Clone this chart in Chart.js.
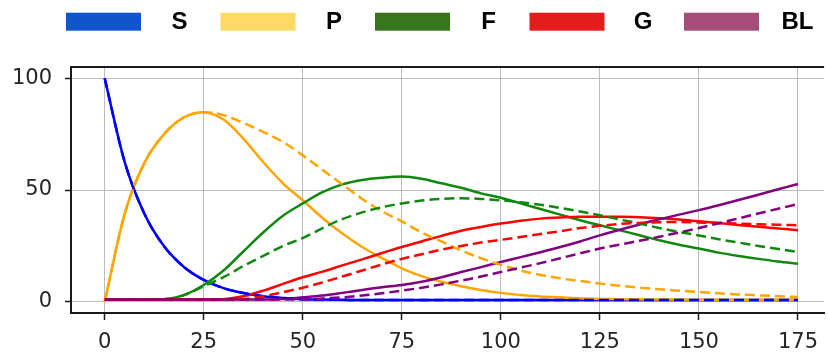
<!DOCTYPE html>
<html><head><meta charset="utf-8">
<script src="https://cdn.jsdelivr.net/npm/chart.js@4.4.1/dist/chart.umd.min.js"></script>
<style>html,body{margin:0;padding:0;background:#fff;overflow:hidden;} #wrap{width:828px;height:353px;position:relative;}</style>
</head><body><div id="wrap"><canvas id="c" width="828" height="353"></canvas></div>
<script>
// time points (x values)
const times = [0,5,10,15,20,25,30,35,40,45,50,55,60,65,70,75,80,85,90,95,100,105,110,115,120,125,130,135,140,145,150,155,160,165,170,175];
// solid series
const sSolid  = [100,62.8,39.5,24.8,15.6,9.8,6.1,3.9,2.5,1.7,1.2,1,0.9,0.8,0.8,0.8,0.8,0.8,0.8,0.8,0.8,0.8,0.8,0.8,0.8,0.8,0.8,0.8,0.8,0.8,0.8,0.8,0.8,0.8,0.8,0.8];
const pSolid  = [0,39,62,75,82.5,84.8,81.5,73,62.5,53,45.4,37.5,30.5,24.5,19.5,15,11.5,9,7,5.3,4,3,2.4,2,1.6,1.3,1.2,1.1,1,1,0.9,0.9,0.9,0.9,0.9,0.9];
const fSolid  = [1,1,1,1.2,3,7.5,14,22.5,31,38.5,44,49,52.5,54.5,55.5,56,55,53,51,48.5,46.5,44,41.5,39,36.5,34.2,32,29.8,27.5,25.5,23.8,22,20.5,19.2,18,17];
const gSolid  = [1,1,1,1,1,1,1.2,2.5,5,8,11,13.5,16.3,19,21.8,24.5,27,29.5,31.8,33.5,35,36.3,37.2,37.7,38,38,38,37.8,37.4,36.8,36,35.2,34.4,33.6,32.8,32];
const blSolid = [1,1,1,1,1,1,1,1,1,1.3,2,2.8,4,5.3,6.5,7.5,9,11,13.3,15.5,17.8,20,22.2,24.5,27,29.7,32.2,34.6,36.9,39,41,43.2,45.5,47.9,50.3,52.7];
// dashed series
const sDashed  = [100,62.8,39.5,24.8,15.6,9.8,6.1,3.9,2.5,1.7,1.2,1,0.9,0.8,0.8,0.8,0.8,0.8,0.8,0.8,0.8,0.8,0.8,0.8,0.8,0.8,0.8,0.8,0.8,0.8,0.8,0.8,0.8,0.8,0.8,0.8];
const pDashed  = [0,39,62,75,82.5,84.8,83.5,80,76,71.5,65.5,59,52.5,46,40.5,36,31,27,23,19.5,16.5,14,12,10.5,9.3,8.2,7.2,6.3,5.6,5,4.4,3.8,3.3,2.9,2.5,2.2];
const fDashed  = [1,1,1,1.2,3,7,11,16,20.5,25,28.5,33,37,40,42.3,44,45.3,46,46.3,46,45.4,44.5,43.4,42,40.4,38.7,36.8,35,33,31.2,29.7,28,26.5,25,23.6,22.3];
const gDashed  = [1,1,1,1,1,1,1,1.2,2.5,4.3,6.3,8.7,11.3,14,16.7,19.2,21.3,23.3,25,26.5,27.7,29,30.3,31.6,33,34,34.8,35.3,35.6,35.7,35.5,35.2,35,34.7,34.5,34.2];
const blDashed = [1,1,1,1,1,1,1,1,1,1,1,1.5,2,2.8,3.8,5,6.3,7.8,9.5,11.3,13.3,15.3,17.3,19.5,21.7,23.8,25.6,27.3,29.1,31,33,35.1,37.3,39.5,41.6,43.7];

const seriesNames = ['S','P','F','G','BL'];
const legendColors = ['#1155cc','#ffd966','#38761d','#e51c1c','#a64d79'];
const lineColors = ['#0000ff','#ffa500','#108810','#ff0000','#800080'];
const xTicks = [0,25,50,75,100,125,150,175];
const yTicks = [0,50,100];

const solidSets = [sSolid,pSolid,fSolid,gSolid,blSolid];
const dashedSets = [sDashed,pDashed,fDashed,gDashed,blDashed];

const datasets = [];
solidSets.forEach((arr,i)=>{
  datasets.push({label: seriesNames[i], data: times.map((t,j)=>({x:t,y:arr[j]})),
    borderColor: lineColors[i], backgroundColor: lineColors[i], borderWidth: 2.5,
    pointRadius: 0, cubicInterpolationMode: 'monotone', fill: false, order: 20 - i});
});
dashedSets.forEach((arr,i)=>{
  datasets.push({label: seriesNames[i] + ' (dashed)', data: times.map((t,j)=>({x:t,y:arr[j]})),
    borderColor: lineColors[i], backgroundColor: lineColors[i], borderWidth: 2.5, borderDash: [10,5],
    pointRadius: 0, cubicInterpolationMode: 'monotone', fill: false, order: 10 - i});
});

const boxLegend = {
  id: 'boxLegend',
  afterDraw(chart){
    const ctx = chart.ctx;
    ctx.save();
    const x0 = 66, step = 154.5, bw = 75, bh = 18, y0 = 12.7;
    ctx.font = 'bold 24px "Liberation Sans", Arial, sans-serif';
    ctx.textAlign = 'center';
    ctx.textBaseline = 'middle';
    seriesNames.forEach((n,i)=>{
      const x = x0 + i*step;
      ctx.fillStyle = legendColors[i];
      ctx.fillRect(x, y0, bw, bh);
      ctx.fillStyle = '#000';
      ctx.fillText(n, x + bw + 38.5, y0 + bh/2 + 1);
    });
    ctx.restore();
  }
};
const topSpine = {
  id: 'topSpine',
  afterDraw(chart){
    const {ctx, chartArea} = chart;
    ctx.save();
    ctx.strokeStyle = '#1a1a1a';
    ctx.lineWidth = 2;
    ctx.beginPath();
    ctx.moveTo(chartArea.left, chartArea.top);
    ctx.lineTo(chartArea.right, chartArea.top);
    ctx.stroke();
    ctx.restore();
  }
};

const tickFont = {family: '"DejaVu Sans", sans-serif', size: 21};
new Chart(document.getElementById('c'), {
  type: 'line',
  data: {datasets},
  options: {
    responsive: false, animation: false, devicePixelRatio: 1,
    layout: {padding: {top: 67, left: 0, right: 0, bottom: 0}},
    plugins: {legend: {display: false}, tooltip: {enabled: false}},
    scales: {
      x: {type: 'linear', min: -8.5, max: 181.6,
        afterBuildTicks: s => { s.ticks = xTicks.map(v=>({value:v})); },
        afterFit: s => { s.height = 40; },
        grid: {color: '#bcbcbc', lineWidth: 1, tickColor: '#1a1a1a', tickLength: 7, tickWidth: 1.5},
        border: {display: true, color: '#1a1a1a', width: 2},
        ticks: {font: tickFont, color: '#262626', padding: 10, maxRotation: 0, autoSkip: false}
      },
      y: {type: 'linear', min: -5, max: 105,
        afterBuildTicks: s => { s.ticks = yTicks.map(v=>({value:v})); },
        afterFit: s => { s.width = 71; },
        grid: {color: '#bcbcbc', lineWidth: 1, tickColor: '#1a1a1a', tickLength: 6, tickWidth: 1.5},
        border: {display: true, color: '#1a1a1a', width: 2},
        ticks: {font: tickFont, color: '#262626', padding: 13}
      }
    }
  },
  plugins: [boxLegend, topSpine]
});
</script></body></html>
